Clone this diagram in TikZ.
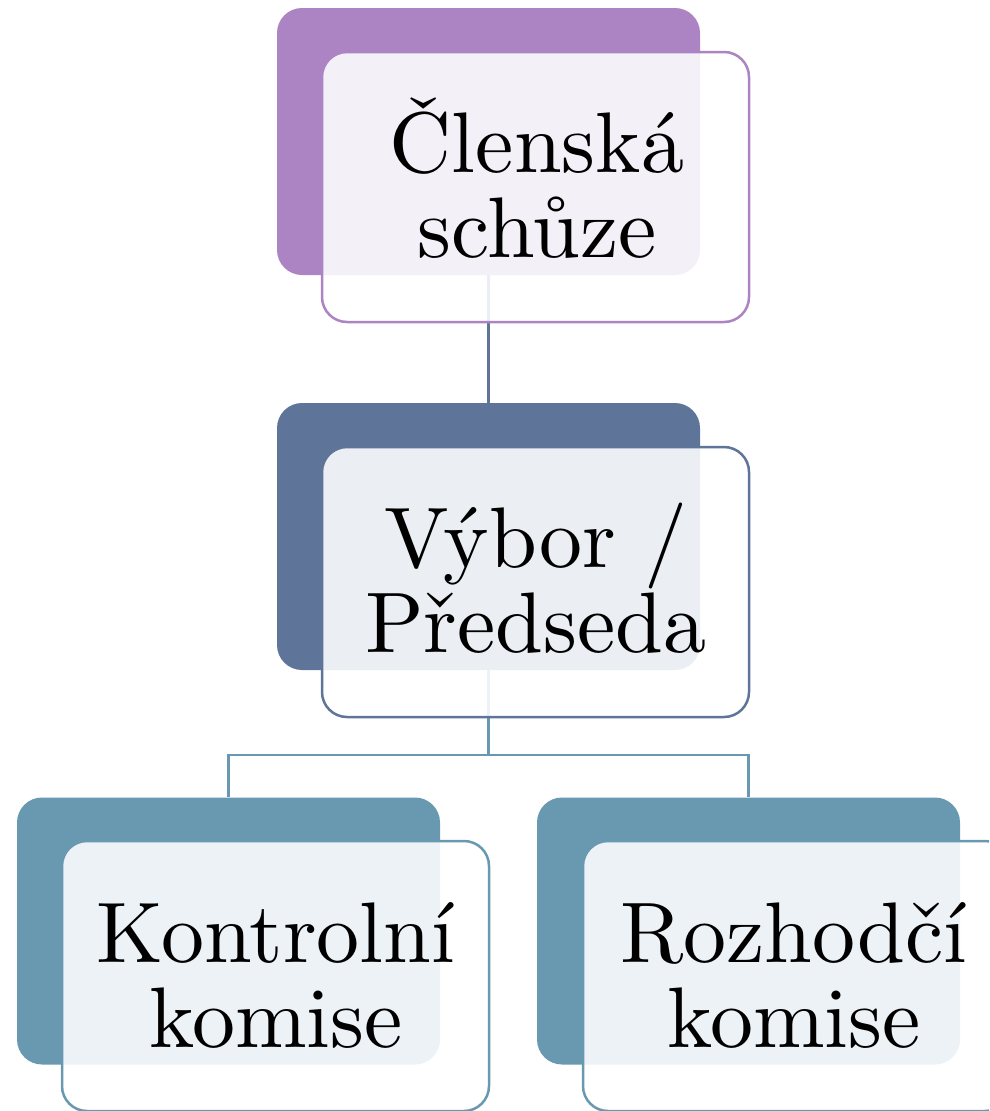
\documentclass[tikz,border=0pt]{standalone}
\usepackage{fontspec}
\newfontfamily\lmten{lmroman10-regular.otf}
\definecolor{cpurple}{HTML}{AC84C4}
\definecolor{cnavy}{HTML}{5F7499}
\definecolor{cteal}{HTML}{6899B1}
\tikzset{
  backbox/.style={rectangle, rounded corners=25pt, minimum width=423pt, minimum height=267pt, inner sep=0pt, draw=none},
  frontbox/.style={rectangle, rounded corners=25pt, minimum width=427pt, minimum height=270pt, inner sep=0pt, line width=2.5pt, fill=white, fill opacity=0.88},
  boxtext/.style={align=center, inner sep=0pt, anchor=base, font=\lmten\fontsize{86}{85}\selectfont},
  conn/.style={line width=2.5pt}
}
\begin{document}
\begin{tikzpicture}[x=1pt,y=-1pt]
\useasboundingbox (0,0) rectangle (989,1111);
\clip (0,0) rectangle (989,1111);
% back boxes
\node[backbox, fill=cpurple] (b1) at (488.5,141.5) {};
\node[backbox, fill=cnavy]   (b2) at (488.5,536.5) {};
\node[backbox, fill=cteal]   (b3) at (228.5,931) {};
\node[backbox, fill=cteal]   (b4) at (748.5,931) {};
% connectors
\coordinate (j) at (488.5,755);
\draw[conn, cnavy] (b1.south) -- (b2.north);
\draw[conn, cteal] (b2.south) -- (j) -| (b3.north);
\draw[conn, cteal] (j) -| (b4.north);
% front boxes
\node[frontbox, draw=cpurple] (f1) at (535.5,187) {};
\node[frontbox, draw=cnavy]   (f2) at (535.5,582) {};
\node[frontbox, draw=cteal]   (f3) at (275.5,976) {};
\node[frontbox, draw=cteal]   (f4) at (796.5,976) {};
% texts (anchor = baseline of the last line)
\node[boxtext] (t1) at (537,257) {Členská\\schůze};
\node[boxtext] (t2) at (536,652) {Výbor /\\Předseda};
\node[boxtext] (t3) at (276,1047) {Kontrolní\\komise};
\node[boxtext] (t4) at (794,1047) {Rozhodčí\\komise};
\end{tikzpicture}
\end{document}
